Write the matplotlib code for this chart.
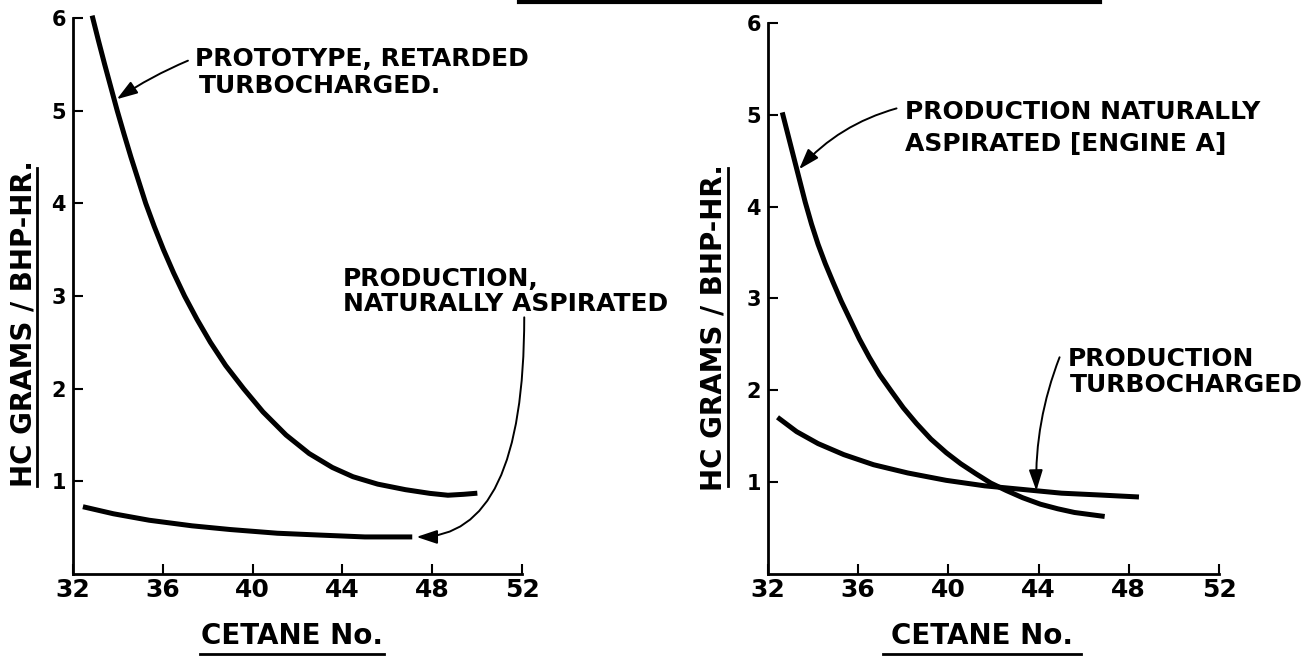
import numpy as np
import matplotlib.pyplot as plt
from matplotlib.lines import Line2D

plt.rcParams['font.family'] = 'DejaVu Sans'
plt.rcParams['font.weight'] = 'bold'

W, H = 1316, 657

# left chart - prototype, retarded, turbocharged
proto_x = [32.88, 33.14, 33.41, 33.69, 33.97, 34.27, 34.58, 34.91, 35.24, 35.62,
           36.03, 36.48, 36.97, 37.52, 38.12, 38.8, 39.6, 40.46, 41.49, 42.52,
           43.55, 44.47, 45.57, 46.81, 47.9, 48.7, 49.4, 49.9]
proto_y = [6.0, 5.75, 5.5, 5.25, 5.0, 4.75, 4.5, 4.25, 4.0, 3.75,
           3.5, 3.25, 3.0, 2.75, 2.5, 2.25, 2.0, 1.75, 1.5, 1.3,
           1.15, 1.05, 0.97, 0.91, 0.87, 0.85, 0.86, 0.87]
# left chart - production, naturally aspirated
prodna_x = [32.55, 33.8, 35.4, 37.3, 39.0, 41.1, 43.0, 45.0, 47.0]
prodna_y = [0.72, 0.65, 0.58, 0.52, 0.48, 0.44, 0.42, 0.40, 0.40]

# right chart - production naturally aspirated (engine A)
engA_x = [32.66, 32.92, 33.18, 33.42, 33.65, 33.93, 34.22, 34.54, 34.88, 35.25,
          35.64, 36.05, 36.49, 36.95, 37.44, 38.0, 38.58, 39.22, 39.91, 40.55,
          41.23, 41.88, 42.56, 43.3, 44.08, 44.85, 45.59, 46.2, 46.82]
engA_y = [5.0, 4.75, 4.5, 4.27, 4.05, 3.81, 3.59, 3.38, 3.18, 2.97,
          2.77, 2.56, 2.36, 2.17, 2.0, 1.81, 1.64, 1.47, 1.32, 1.2,
          1.09, 0.99, 0.91, 0.83, 0.76, 0.71, 0.67, 0.65, 0.63]
# right chart - production turbocharged
prodtc_x = [32.51, 33.27, 34.22, 35.36, 36.68, 38.2, 39.9, 41.61, 43.32, 45.02, 46.73, 48.34]
prodtc_y = [1.69, 1.55, 1.42, 1.30, 1.19, 1.10, 1.02, 0.96, 0.92, 0.88, 0.86, 0.84]

cetane_ticks = [32, 36, 40, 44, 48, 52]
hc_ticks = [1, 2, 3, 4, 5, 6]
ylabel = 'HC GRAMS / BHP-HR.'
xlabel = 'CETANE No.'

fig = plt.figure(figsize=(W / 100, H / 100), dpi=100)


def px_rect(x0, x1, y_bot, y_top):
    return [x0 / W, 1 - y_bot / H, (x1 - x0) / W, (y_bot - y_top) / H]


def fig_line(xs, ys, lw=2.0):
    fig.add_artist(Line2D([x / W for x in xs], [1 - y / H for y in ys],
                          transform=fig.transFigure, color='black', lw=lw))


ax1 = fig.add_axes(px_rect(73, 522, 574, 13.4))
ax2 = fig.add_axes(px_rect(768, 1219, 574, 18.4))

for ax in (ax1, ax2):
    ax.set_xlim(32, 52)
    ax.set_ylim(0, 6.05)
    ax.spines[['top', 'right']].set_visible(False)
    ax.spines['left'].set_bounds(0, 6)
    for s in ('left', 'bottom'):
        ax.spines[s].set_linewidth(2)
    ax.set_xticks(cetane_ticks)
    ax.set_yticks(hc_ticks)
    ax.tick_params(direction='in', length=7, width=1.5)
    ax.tick_params(axis='x', labelsize=18, pad=3)
    ax.tick_params(axis='y', labelsize=15, pad=5)

arrow = dict(arrowstyle='-|>,head_length=0.9,head_width=0.3', color='black',
             lw=1.4, mutation_scale=14, shrinkA=0, shrinkB=2)
curve = dict(color='black', lw=3.6, clip_on=False, solid_joinstyle='round')

# left chart
ax1.plot(proto_x, proto_y, **curve)
ax1.plot(prodna_x, prodna_y, **curve)
ax1.text(37.43, 5.48, 'PROTOTYPE, RETARDED', fontsize=18, va='baseline')
ax1.text(37.61, 5.19, 'TURBOCHARGED.', fontsize=18, va='baseline')
ax1.annotate('', xy=(33.85, np.interp(33.85, proto_x, proto_y)), xytext=(37.12, 5.54),
             arrowprops=dict(arrow, connectionstyle='arc3,rad=0.05'))
ax1.text(44.03, 3.11, 'PRODUCTION,', fontsize=18, va='baseline')
ax1.text(44.03, 2.84, 'NATURALLY ASPIRATED', fontsize=18, va='baseline')
ax1.annotate('', xy=(prodna_x[-1] + 0.3, prodna_y[-1]), xytext=(52.1, 2.77),
             arrowprops=dict(arrow, shrinkB=0,
                             connectionstyle='angle3,angleA=90,angleB=0'),
             annotation_clip=False)

# right chart
ax2.plot(engA_x, engA_y, **curve)
ax2.plot(prodtc_x, prodtc_y, **curve)
ax2.text(38.08, 4.95, 'PRODUCTION NATURALLY', fontsize=18, va='baseline')
ax2.text(38.08, 4.61, 'ASPIRATED [ENGINE A]', fontsize=18, va='baseline')
ax2.annotate('', xy=(33.3, np.interp(33.3, engA_x, engA_y)), xytext=(37.7, 5.07),
             arrowprops=dict(arrow, connectionstyle='arc3,rad=0.15'))
ax2.text(45.30, 2.27, 'PRODUCTION', fontsize=18, va='baseline')
ax2.text(45.39, 1.98, 'TURBOCHARGED', fontsize=18, va='baseline')
ax2.annotate('', xy=(43.9, np.interp(43.9, prodtc_x, prodtc_y)), xytext=(44.93, 2.36),
             arrowprops=dict(arrow, shrinkB=0, connectionstyle='arc3,rad=0.1'))

# axis titles, hand-underlined
for xc, yc, ux in ((24, 324, 37), (713, 328, 728)):
    fig.text(xc / W, 1 - yc / H, ylabel, rotation=90, ha='center', va='center', fontsize=20)
    fig_line([ux, ux], [168, 486])
for xc, x0, x1 in ((292, 200, 384), (982, 883, 1081)):
    fig.text(xc / W, 1 - 636 / H, xlabel, ha='center', va='center', fontsize=20)
    fig_line([x0, x1], [654, 654])

# cut-off rule along the top edge
fig_line([519, 1100], [1.5, 1.5], lw=3)

fig.savefig('out.png', dpi=100, facecolor='white')
